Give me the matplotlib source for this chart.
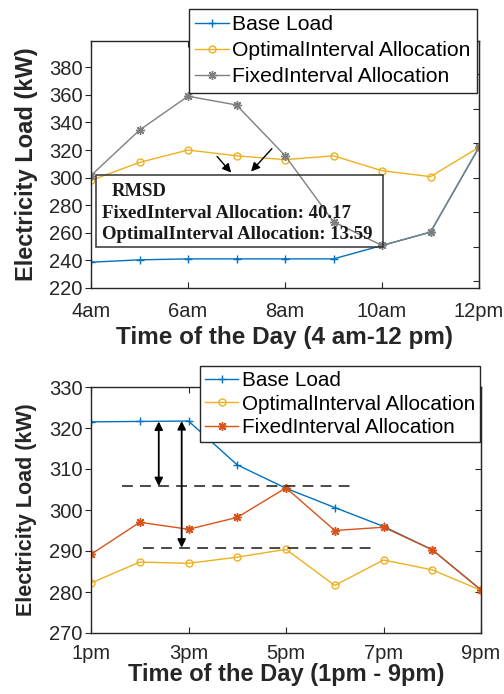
import matplotlib
matplotlib.use("Agg")
import matplotlib.pyplot as plt
from matplotlib.patches import Rectangle

plt.rcParams['font.family'] = ['Liberation Sans', 'DejaVu Sans']

# ---------------- data ----------------
hours_top = [4, 5, 6, 7, 8, 9, 10, 11, 12]
tick_top = [4, 6, 8, 10, 12]
ticklabels_top = ['4am', '6am', '8am', '10am', '12pm']
base_top = [238.7, 240.4, 241.1, 241.1, 241.1, 241.1, 250.8, 260.5, 322.0]
optimal_top = [298.0, 311.0, 320.0, 315.8, 313.0, 315.8, 305.0, 300.7, 322.0]
fixed_top = [301.5, 334.4, 359.0, 352.6, 316.0, 268.0, 250.8, 260.5, 322.0]
rmsd_fixed = 40.17
rmsd_optimal = 13.59

hours_bot = [13, 14, 15, 16, 17, 18, 19, 20, 21]
tick_bot = [13, 15, 17, 19, 21]
ticklabels_bot = ['1pm', '3pm', '5pm', '7pm', '9pm']
base_bot = [321.5, 321.6, 321.7, 311.0, 305.3, 300.6, 296.0, 290.3, 280.5]
optimal_bot = [282.2, 287.3, 287.0, 288.5, 290.4, 281.6, 287.8, 285.4, 280.4]
fixed_bot = [289.2, 297.0, 295.3, 298.2, 305.4, 295.0, 295.8, 290.3, 280.5]
level_fixed = 305.8
level_optimal = 290.8

BLUE = '#0072BD'
YEL = '#EDB120'
RED = '#D95319'
GRAY = '#7f7f7f'
AX = '#262626'
STAR = (8, 2, 0)

fig = plt.figure(figsize=(5.04, 6.94), dpi=100)
ax1 = fig.add_axes([91/504, 1-288/694, 388/504, 247/694])
ax2 = fig.add_axes([91/504, 1-633/694, 390/504, 246/694])


def style(ax, xpad):
    for s in ax.spines.values():
        s.set_color(AX)
        s.set_linewidth(1.0)
    ax.tick_params(axis='x', which='both', direction='in', top=True, bottom=True,
                   length=4, width=0.8, colors=AX, labelsize=14.5, pad=xpad)
    ax.tick_params(axis='y', which='both', direction='out', left=True, right=False,
                   length=4, width=0.8, colors=AX, labelsize=14.5, pad=2)
    axr = ax.secondary_yaxis('right')
    axr.tick_params(direction='in', length=4, width=0.8, colors=AX, labelright=False)
    axr.spines['right'].set_color(AX)
    return axr

# ---------------- top ----------------
ax1.plot(hours_top, base_top, '-+', color=BLUE, lw=1.0, ms=6, mew=1.0, label='Base Load')
ax1.plot(hours_top, optimal_top, '-o', color=YEL, lw=1.0, ms=5, mew=1.0, mfc='none',
         label='OptimalInterval Allocation')
ax1.plot(hours_top, fixed_top, '-', marker=STAR, color=GRAY, lw=1.0, ms=6.5, mew=1.0,
         label='FixedInterval Allocation')
ax1.set_xlim(4, 12)
ax1.set_ylim(220, 399)
ax1.set_yticks(range(220, 381, 20))
ax1.set_xticks(tick_top)
ax1.set_xticklabels(ticklabels_top)
style(ax1, 10)
ax1.set_xlabel('Time of the Day (4 am-12 pm)', fontsize=17.5, fontweight='bold',
               color=AX, labelpad=4)
ax1.set_ylabel('Electricity Load (kW)', fontsize=17, fontweight='bold', color=AX, labelpad=8)

leg1 = ax1.legend(loc='upper right', bbox_to_anchor=(477/504, 1-9/694),
                  bbox_transform=fig.transFigure, borderaxespad=0, fontsize=15.2,
                  fancybox=False, framealpha=1, edgecolor=AX, handlelength=1.6,
                  handletextpad=0.15, labelspacing=0.33, borderpad=0.3)
leg1.get_frame().set_linewidth(1.0)

# RMSD box
ax1.add_patch(Rectangle((4.10, 250.0), 5.92, 51.6, fill=False, edgecolor='#333333',
                        lw=1.1, zorder=5))
ax1.text(4.42, 290.0, 'RMSD', family='Liberation Serif', fontweight='bold',
         fontsize=13.5, color='#1a1a1a', va='center', ha='left', zorder=6)
ax1.text(4.22, 274.0, f'FixedInterval Allocation: {rmsd_fixed:.2f}',
         family='Liberation Serif', fontweight='bold', fontsize=13.5, color='#1a1a1a',
         va='center', ha='left', zorder=6)
ax1.text(4.22, 258.6, f'OptimalInterval Allocation: {rmsd_optimal:.2f}',
         family='Liberation Serif', fontweight='bold', fontsize=13.5, color='#1a1a1a',
         va='center', ha='left', zorder=6)
ax1.annotate('', xy=(6.89, 303.6), xytext=(6.6, 315.3),
             arrowprops=dict(arrowstyle='-|>', color='k', lw=1.0, mutation_scale=13,
                             shrinkA=0, shrinkB=0))
ax1.annotate('', xy=(7.3, 304.4), xytext=(7.73, 321.0),
             arrowprops=dict(arrowstyle='-|>', color='k', lw=1.0, mutation_scale=13,
                             shrinkA=0, shrinkB=0))

# ---------------- bottom ----------------
ax2.plot(hours_bot, base_bot, '-+', color=BLUE, lw=1.0, ms=6, mew=1.0, label='Base Load')
ax2.plot(hours_bot, optimal_bot, '-o', color=YEL, lw=1.0, ms=5, mew=1.0, mfc='none',
         label='OptimalInterval Allocation')
ax2.plot(hours_bot, fixed_bot, '-', marker=STAR, color=RED, lw=1.0, ms=6.5, mew=1.0,
         label='FixedInterval Allocation')
ax2.set_xlim(13, 21)
ax2.set_ylim(270, 330)
ax2.set_yticks(range(270, 331, 10))
ax2.set_xticks(tick_bot)
ax2.set_xticklabels(ticklabels_bot)
style(ax2, 8)
ax2.set_xlabel('Time of the Day (1pm - 9pm)', fontsize=17, fontweight='bold',
               color=AX, labelpad=0)
ax2.set_ylabel('Electricity Load (kW)', fontsize=15.5, fontweight='bold', color=AX, labelpad=9)

leg2 = ax2.legend(loc='upper right', bbox_to_anchor=(480/504, 1-366/694),
                  bbox_transform=fig.transFigure, borderaxespad=0, fontsize=14.9,
                  fancybox=False, framealpha=1, edgecolor=AX, handlelength=1.6,
                  handletextpad=0.15, labelspacing=0.22, borderpad=0.25)
leg2.get_frame().set_linewidth(1.0)

ax2.plot([13.64, 18.31], [level_fixed, level_fixed], color='#3a3a3a', lw=1.3,
         ls=(0, (6, 4)))
ax2.plot([14.07, 18.76], [level_optimal, level_optimal], color='#3a3a3a', lw=1.3,
         ls=(0, (6, 4)))
ax2.annotate('', xy=(14.39, level_fixed), xytext=(14.39, base_bot[1]),
             arrowprops=dict(arrowstyle='<|-|>', color='k', lw=1.3, mutation_scale=12,
                             shrinkA=0, shrinkB=0))
ax2.annotate('', xy=(14.86, level_optimal), xytext=(14.86, base_bot[2]),
             arrowprops=dict(arrowstyle='<|-|>', color='k', lw=1.3, mutation_scale=12,
                             shrinkA=0, shrinkB=0))

fig.savefig('out.png', dpi=100, facecolor='white')
